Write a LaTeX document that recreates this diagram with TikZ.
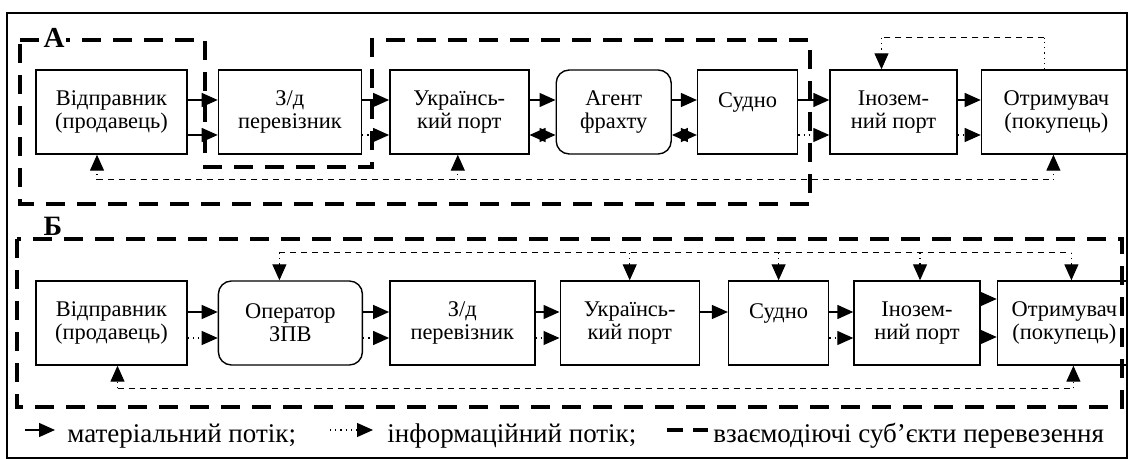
\documentclass[tikz,border=0pt]{standalone}
\usepackage{fontspec}
\setmainfont{Liberation Serif}
\usetikzlibrary{arrows.meta, positioning}
\tikzset{
    >={Triangle[length=8pt,width=7pt]}, % filled arrow heads
    box/.style={draw, line width=0.7pt, minimum height=42pt, inner sep=0pt, align=center, font=\fontsize{11.2}{11.5}\selectfont}, % every link of the chain
    rbox/.style={box, rounded corners=6.5pt}, % agent / operator
    mat/.style={->, line width=0.7pt}, % material flow
    info/.style={->, line width=0.6pt, dotted}, % information flow
    infobus/.style={line width=0.5pt, dash pattern=on 3pt off 2.5pt}, % information bus
    zone/.style={line width=2pt, dash pattern=on 9.5pt off 6pt}, % interacting subjects
}
\tikzstyle{legendtext} = [anchor=base west, inner sep=0pt, font=\fontsize{13.5}{14}\selectfont]

\begin{document}
\begin{tikzpicture}[x=0.5pt, y=-0.5pt]
\useasboundingbox (0,0) rectangle (1128,459);
\draw[line width=1pt] (7,13) rectangle (1127,458);

% scheme A
\draw[zone] (20,40) -- (205,40) -- (205,167) -- (372,167) -- (372,40) -- (810,40) -- (810,204) -- (20,204) -- cycle;
\node[fill=white, inner sep=1pt, font=\fontsize{14.5}{14.5}\selectfont\bfseries] (za) at (54,38) {А};

\node[box, minimum width=75.5pt] (a1) at (111.5,112) {Відправник\\(продавець)};
\node[box, minimum width=71.5pt, right=15pt of a1] (a2) {З/д\\перевізник};
\node[box, minimum width=69.5pt, right=13.5pt of a2] (a3) {Українсь-\\кий порт};
\node[rbox, minimum width=57.5pt, right=13pt of a3] (a4) {Агент\\фрахту};
\node[box, minimum width=50pt, right=12.5pt of a4] (a5) {Судно\\\mbox{}};
\node[box, minimum width=63.5pt, right=15.5pt of a5] (a6) {Інозем-\\ний порт};
\node[box, minimum width=75pt, right=11.5pt of a6] (a7) {Отримувач\\(покупець)};

\foreach \s/\t in {a1/a2, a2/a3, a3/a4, a4/a5, a5/a6, a6/a7}
    \draw[mat] ([yshift=6pt]\s.east) -- ([yshift=6pt]\t.west);
\draw[mat] ([yshift=-11.5pt]a1.east) -- ([yshift=-11.5pt]a2.west);
\foreach \s/\t in {a2/a3, a5/a6, a6/a7}
    \draw[info] ([yshift=-11.5pt]\s.east) -- ([yshift=-11.5pt]\t.west);
\foreach \s/\t in {a3/a4, a4/a5}
    \draw[mat, <->] ([yshift=-11.5pt]\s.east) -- ([yshift=-11.5pt]\t.west);

\coordinate (busA) at (0,180);
\draw[infobus] ([xshift=-7.25pt]a1.south |- busA) -- ([xshift=-1.5pt]a7.south |- busA);
\foreach \n/\x in {a1/-7.25pt, a3/-0.75pt, a7/-1.5pt}
    \draw[info] ([xshift=\x]\n.south |- busA) -- ([xshift=\x]\n.south);

\coordinate (topA) at (0,38);
\draw[dotted, line width=0.6pt] ([xshift=-6pt]a7.north) -- ([xshift=-6pt]a7.north |- topA);
\draw[infobus] ([xshift=-6pt]a7.north |- topA) -- ([xshift=-6pt]a6.north |- topA);
\draw[info] ([xshift=-6pt]a6.north |- topA) -- ([xshift=-6pt]a6.north);

% scheme B
\draw[zone] (17,239) rectangle (1122,407);
\node[inner sep=1pt, font=\fontsize{14}{14}\selectfont\bfseries] (zb) at (53,226) {Б};

\node[box, minimum width=75.5pt] (b1) at (111.5,323) {Відправник\\(продавець)};
\node[rbox, minimum width=72pt, right=15pt of b1] (b2) {Оператор\\ЗПВ};
\node[box, minimum width=72.5pt, right=13pt of b2] (b3) {З/д\\перевізник};
\node[box, minimum width=69.5pt, right=12pt of b3] (b4) {Українсь-\\кий порт};
\node[box, minimum width=50pt, right=14pt of b4] (b5) {Судно\\\mbox{}};
\node[box, minimum width=63pt, right=12pt of b5] (b6) {Інозем-\\ний порт};
\node[box, minimum width=67pt, right=8pt of b6] (b7) {Отримувач\\(покупець)};

\foreach \s/\t in {b1/b2, b2/b3, b3/b4, b4/b5, b5/b6}
    \draw[mat] ([yshift=5.5pt]\s.east) -- ([yshift=5.5pt]\t.west);
\foreach \s/\t in {b1/b2, b2/b3, b3/b4, b5/b6}
    \draw[info] ([yshift=-7.5pt]\s.east) -- ([yshift=-7.5pt]\t.west);
\draw[mat] ([yshift=12pt]b6.east) -- ([yshift=12pt]b7.west);
\draw[mat] ([yshift=-7pt]b6.east) -- ([yshift=-7pt]b7.west);

\coordinate (topB) at (0,253);
\draw[infobus] ([xshift=-5.5pt]b2.north |- topB) -- ([xshift=3.5pt]b7.north |- topB);
\foreach \n/\x in {b2/-5.5pt, b4/0pt, b5/0pt, b6/1.5pt, b7/3.5pt}
    \draw[info] ([xshift=\x]\n.north |- topB) -- ([xshift=\x]\n.north);

\coordinate (busB) at (0,388);
\draw[infobus] ([xshift=3pt]b1.south |- busB) -- ([xshift=4.5pt]b7.south |- busB);
\foreach \n/\x in {b1/3pt, b7/4.5pt}
    \draw[info] ([xshift=\x]\n.south |- busB) -- ([xshift=\x]\n.south);

% legend
\node[legendtext] (lgmat) at (67,442) {матеріальний потік;};
\node[legendtext] (lginfo) at (387,442) {інформаційний потік;};
\node[legendtext] (lgzone) at (713,442) {взаємодіючі суб’єкти перевезення};
\coordinate (lm) at (25,430);
\coordinate (li) at (330,430);
\coordinate (lz) at (667,430);
\draw[mat] (lm) -- ([xshift=-6pt]lgmat.west |- lm);
\draw[info] (li) -- ([xshift=-7pt]lginfo.west |- li);
\draw[zone, dash pattern=on 8pt off 5pt] (lz) -- ([xshift=-2.5pt]lgzone.west |- lz);
\end{tikzpicture}
\end{document}
